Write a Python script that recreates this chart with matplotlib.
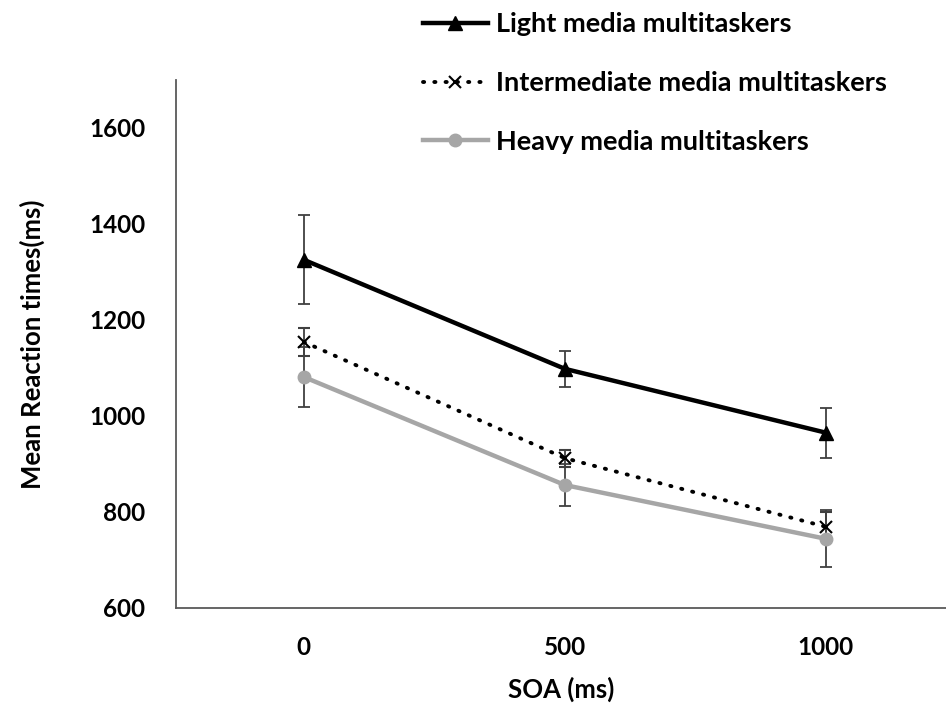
import matplotlib.pyplot as plt

soa_labels = ['0', '500', '1000']
light = [1325, 1098, 965]
light_err = [93, 38, 52]
inter = [1154, 912, 769]
inter_err = [29, 18, 30]
heavy = [1081, 856, 744]
heavy_err = [62, 44, 59]

plt.rcParams['font.family'] = ['Lato', 'DejaVu Sans']
plt.rcParams['font.weight'] = 'bold'

fig = plt.figure(figsize=(9.46, 7.09), dpi=100)
ax = fig.add_axes([0.186, 0.1425, 0.814, 0.745])
x = list(range(len(soa_labels)))

err_kw = dict(ecolor='#404040', elinewidth=1.3, capsize=4, capthick=1.3)

ax.errorbar(x, light, yerr=light_err, color='black', lw=3.2, marker='^',
            markersize=10, label='Light media multitaskers', zorder=3, **err_kw)
ax.errorbar(x, inter, yerr=inter_err, color='black', lw=2.8, ls=(0, (0.3, 2.6)),
            dash_capstyle='round', marker='x', markersize=8, markeredgewidth=1.5,
            label='Intermediate media multitaskers', zorder=3, **err_kw)
ax.errorbar(x, heavy, yerr=heavy_err, color='#A6A6A6', lw=3.2, marker='o',
            markersize=9, label='Heavy media multitaskers', zorder=3, **err_kw)

ax.set_xlim(-0.49, 2.46)
ax.set_ylim(600, 1700)
ax.set_yticks([600, 800, 1000, 1200, 1400, 1600])
ax.set_xticks(x)
ax.set_xticklabels(soa_labels)
ax.tick_params(length=0, labelsize=17.5)
ax.tick_params(axis='y', pad=22)
ax.tick_params(axis='x', pad=20)
for t in ax.get_xticklabels() + ax.get_yticklabels():
    t.set_fontweight('bold')

ax.spines['top'].set_visible(False)
ax.spines['right'].set_visible(False)
for s in ['left', 'bottom']:
    ax.spines[s].set_color('#595959')
    ax.spines[s].set_linewidth(1.3)

ax.set_xlabel('SOA (ms)', fontsize=18.5, fontweight='bold', labelpad=13)
ax.set_ylabel('Mean Reaction times(ms)', fontsize=18.5, fontweight='bold', labelpad=32)

handles, labels = ax.get_legend_handles_labels()
handles = [h[0] for h in handles]
leg = fig.legend(handles, labels, loc='upper left', bbox_to_anchor=(0.421, 1.017),
                 frameon=False, fontsize=19.5, labelspacing=1.28, handlelength=2.4,
                 handletextpad=0.3)
for t in leg.get_texts():
    t.set_fontweight('bold')

fig.savefig('out.png', dpi=100)
